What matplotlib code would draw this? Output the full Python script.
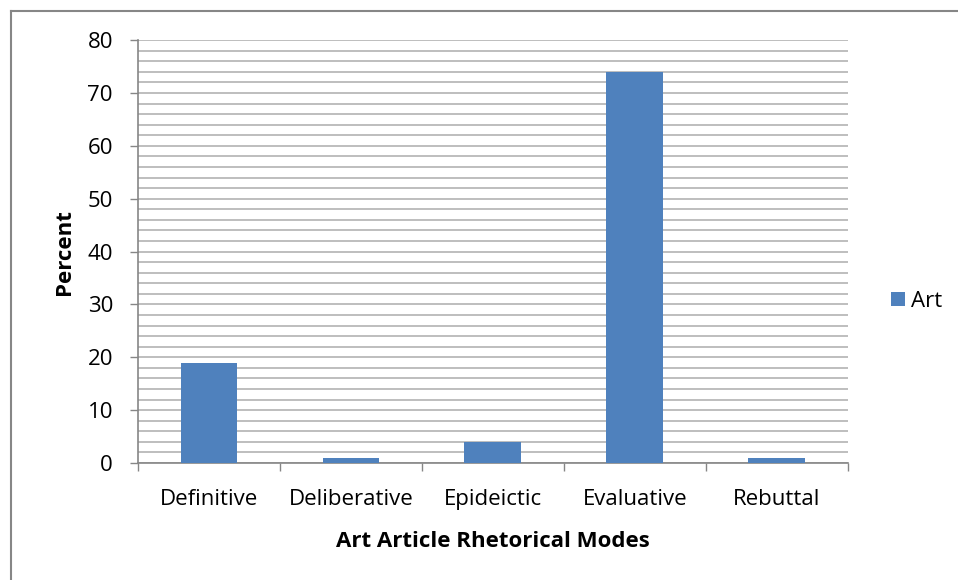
import matplotlib
matplotlib.use("Agg")
import matplotlib.pyplot as plt
from matplotlib.lines import Line2D
import numpy as np

categories = ["Definitive", "Deliberative", "Epideictic", "Evaluative", "Rebuttal"]
values = [19, 1, 4, 74, 1]
series_name = "Art"
x_label = "Art Article Rhetorical Modes"
y_label = "Percent"

plt.rcParams['font.family'] = ['Open Sans', 'DejaVu Sans']

fig = plt.figure(figsize=(9.58, 5.8), dpi=100)
ax = fig.add_axes([0.144, 0.2017, 0.741, 0.729])

x = np.arange(len(categories))
ax.bar(x, values, width=0.4, color="#4F81BD", label=series_name, zorder=3)

ax.set_xlim(-0.5, len(categories) - 0.5)
ax.set_ylim(0, 80)
ax.set_yticks(np.arange(0, 81, 10))
ax.set_yticks(np.arange(0, 81, 2), minor=True)
ax.yaxis.grid(True, which="both", color="#B3B3B3", linewidth=1.2, zorder=0)
ax.tick_params(axis="y", which="minor", length=0)
ax.tick_params(axis="y", which="major", length=6, width=1, color="#868686", labelsize=16, pad=12)

ax.set_xticks(x)
ax.set_xticklabels(categories)
ax.set_xticks(np.arange(-0.5, len(categories), 1), minor=True)
ax.tick_params(axis="x", which="major", length=0, labelsize=16, pad=19)
ax.tick_params(axis="x", which="minor", length=6, width=1, color="#868686")

for s in ["top", "right"]:
    ax.spines[s].set_visible(False)
for s in ["left", "bottom"]:
    ax.spines[s].set_color("#868686")
    ax.spines[s].set_linewidth(1.2)

ax.set_xlabel(x_label, fontsize=16, fontweight="bold", labelpad=15)
ax.set_ylabel(y_label, fontsize=16, fontweight="bold", labelpad=9)

ax.legend(loc="center left", bbox_to_anchor=(1.033, 0.383), frameon=False,
          fontsize=16, handlelength=0.6, handleheight=0.6, handletextpad=0.3)

W, H = 958, 580
fig.add_artist(Line2D([11 / W, 11 / W], [0, 1 - 11 / H], transform=fig.transFigure,
                      color="#868686", linewidth=1.5))
fig.add_artist(Line2D([11 / W, 1], [1 - 11 / H, 1 - 11 / H], transform=fig.transFigure,
                      color="#868686", linewidth=1.5))

fig.savefig("out.png", dpi=100)
